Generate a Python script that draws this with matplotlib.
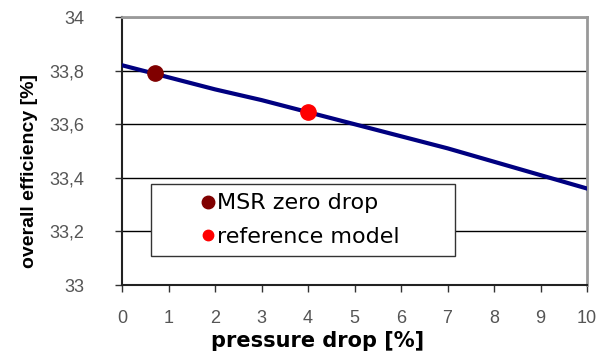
import matplotlib
matplotlib.use("Agg")
import matplotlib.pyplot as plt
from matplotlib.ticker import FuncFormatter
from matplotlib.lines import Line2D

# efficiency vs pressure drop curve
pressure_drop = [0, 1, 2, 3, 4, 5, 6, 7, 8, 9, 10]
efficiency = [33.82, 33.775, 33.73, 33.69, 33.645, 33.60, 33.555, 33.51, 33.46, 33.41, 33.36]

# highlighted points
msr_point = (0.7, 33.79)
ref_point = (4.0, 33.645)

x_ticks = list(range(0, 11))
y_ticks = [33, 33.2, 33.4, 33.6, 33.8, 34]

plt.rcParams['font.family'] = ['Liberation Sans', 'DejaVu Sans']

fig = plt.figure(figsize=(5.98, 3.52), dpi=100)
ax = fig.add_axes([122 / 598, 1 - 285 / 352, (587 - 122) / 598, (285 - 17) / 352])

ax.plot(pressure_drop, efficiency, color='#000080', lw=3, zorder=3)
ax.plot(*msr_point, 'o', color='#800000', ms=11, zorder=4)
ax.plot(*ref_point, 'o', color='#ff0000', ms=11, zorder=4)

ax.set_xlim(0, 10)
ax.set_ylim(33, 34)
ax.set_xticks(x_ticks)
ax.set_yticks(y_ticks)
ax.yaxis.set_major_formatter(FuncFormatter(lambda v, p: ('%g' % round(v, 1)).replace('.', ',')))
ax.grid(axis='y', color='black', lw=1)
ax.set_axisbelow(True)

ax.tick_params(axis='both', direction='out', length=5, width=1, colors='#333333',
               labelcolor='#555555', labelsize=13)
ax.tick_params(axis='x', pad=13)
ax.tick_params(axis='y', pad=22)
for side in ('top', 'right'):
    ax.spines[side].set_color('#999999')
    ax.spines[side].set_linewidth(2)
for side in ('left', 'bottom'):
    ax.spines[side].set_color('#222222')
    ax.spines[side].set_linewidth(1.5)

ax.set_xlabel('pressure drop [%]', fontsize=15, fontweight='bold', family=['DejaVu Sans'])
ax.xaxis.set_label_coords(0.4215, -0.172)
ax.set_ylabel('overall efficiency [%]', fontsize=14, fontweight='bold')
ax.yaxis.set_label_coords(-0.181, 0.425)

handles = [
    Line2D([], [], ls='none', marker='o', color='#800000', ms=9, label='MSR zero drop'),
    Line2D([], [], ls='none', marker='o', color='#ff0000', ms=7.5, label='reference model'),
]
leg = ax.legend(handles=handles, loc='lower left', bbox_to_anchor=(29 / 465, 29 / 268, 304 / 465, 73 / 268),
                mode='expand', prop={'family': ['DejaVu Sans'], 'size': 16}, frameon=True,
                fancybox=False, framealpha=1, edgecolor='#333333', handletextpad=-1.75,
                handlelength=4.3, labelspacing=0.6, borderpad=0.42, borderaxespad=0)
leg.get_frame().set_linewidth(1)

fig.savefig('out.png', dpi=100)
